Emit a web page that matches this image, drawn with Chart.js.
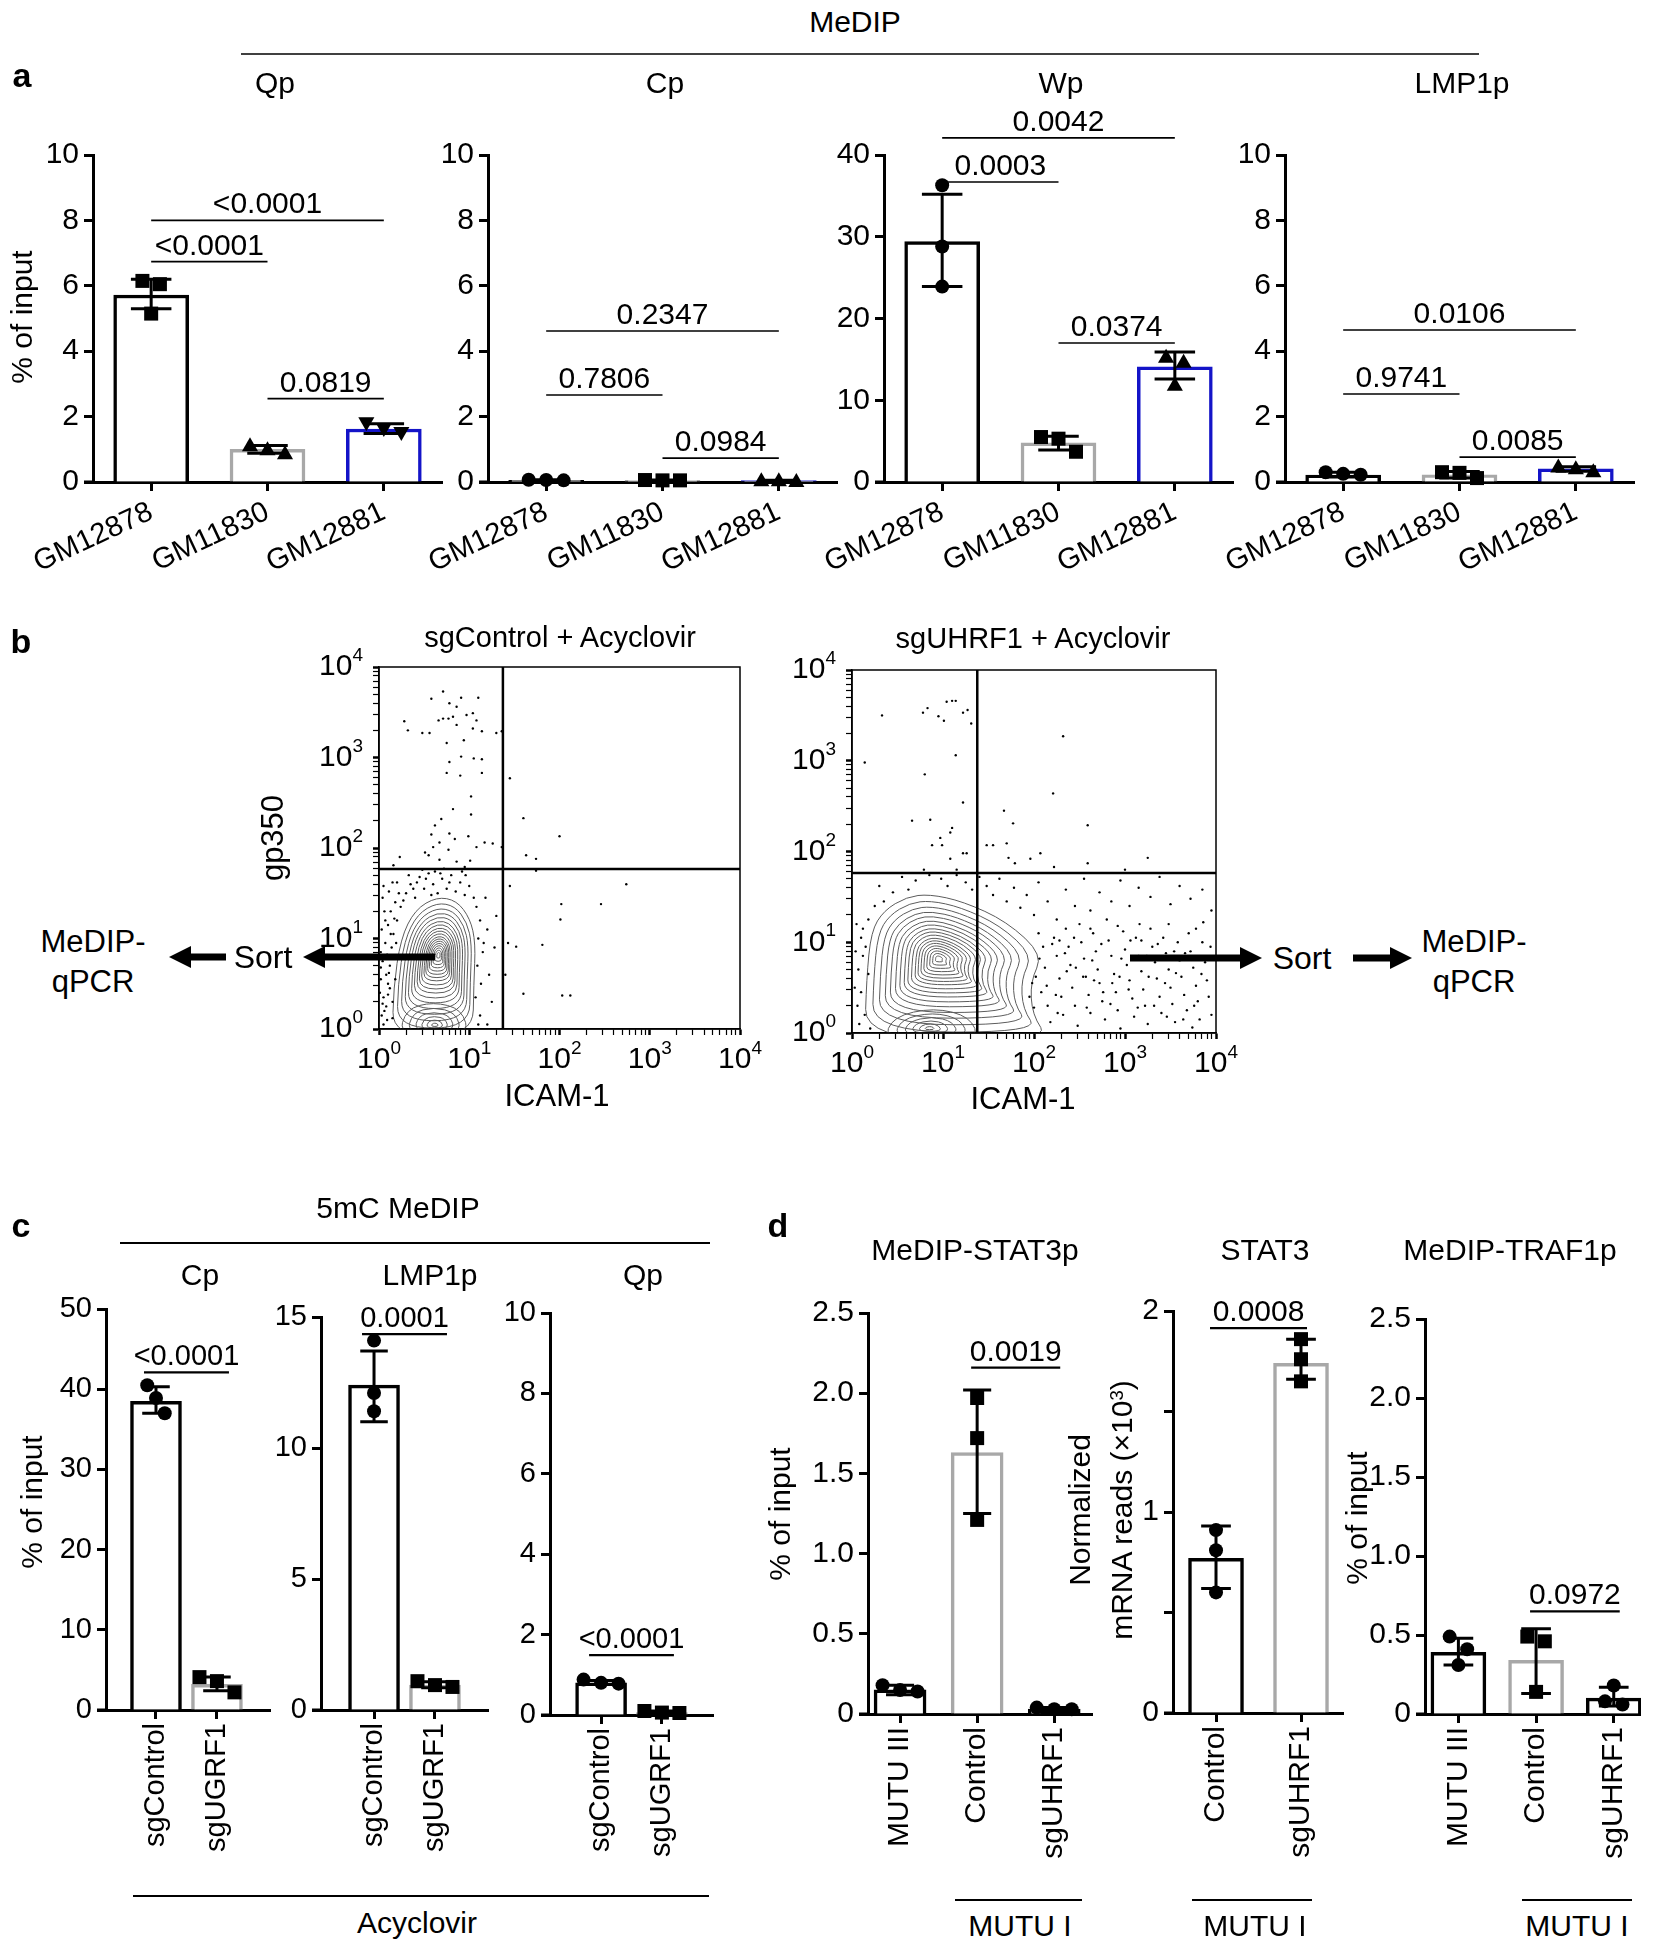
<!DOCTYPE html>
<html>
<head>
<meta charset="utf-8">
<script src="https://cdn.jsdelivr.net/npm/chart.js@4.4.1/dist/chart.umd.min.js"></script>
<style>
body{margin:0;background:#fff;width:1667px;height:1950px;position:relative;overflow:hidden;font-family:'Liberation Sans',Arial,sans-serif;}
.t{position:absolute;white-space:nowrap;transform:translate(-50%,-50%);color:#000;line-height:1;}
.r{transform:translate(-50%,-50%) rotate(-90deg);}
.sup{font-size:0.62em;position:relative;top:-0.5em;}
canvas{position:absolute;}
svg{position:absolute;left:0;top:0;}
</style>
</head>
<body>
<script>
const FONT = "'Liberation Sans', Arial, Helvetica, sans-serif";
const BLACK = '#000', GREY = '#a8a8a8', BLUE = '#1414c8';

// ---------- panel a : MeDIP ----------
const aCells = ['GM12878', 'GM11830', 'GM12881'];
const qpMean = [5.72, 1.0, 1.62];
const qpErr = [[5.3, 6.2], [0.88, 1.12], [1.48, 1.78]];
const qpPts = [[6.15, 6.05, 5.15], [1.12, 1.0, 0.88], [1.8, 1.62, 1.5]];
const qpP = [[1, 2, 6.74, '<0.0001'], [1, 3, 8.0, '<0.0001'], [2, 3, 2.55, '0.0819']];

const cpMean = [0.05, 0.05, 0.04];
const cpErr = [[0.03, 0.07], [0.04, 0.06], [0.02, 0.05]];
const cpPts = [[0.07, 0.06, 0.05], [0.06, 0.05, 0.05], [0.05, 0.05, 0.03]];
const cpP = [[1, 2, 2.66, '0.7806'], [1, 3, 4.62, '0.2347'], [2, 3, 0.73, '0.0984']];

const wpMean = [29.4, 4.8, 14.1];
const wpErr = [[23.9, 35.2], [3.9, 5.6], [12.6, 15.9]];
const wpPts = [[36.3, 28.8, 23.9], [5.5, 5.3, 3.7], [15.3, 14.7, 11.9]];
const wpP = [[1, 2, 36.7, '0.0003'], [1, 3, 42.1, '0.0042'], [2, 3, 17.0, '0.0374']];

const lmMean = [0.21, 0.22, 0.4];
const lmErr = [[0.15, 0.3], [0.12, 0.32], [0.33, 0.47]];
const lmPts = [[0.3, 0.25, 0.22], [0.3, 0.28, 0.12], [0.47, 0.42, 0.33]];
const lmP = [[1, 2, 2.69, '0.9741'], [1, 3, 4.65, '0.0106'], [2, 3, 0.76, '0.0085']];

// ---------- panel b : flow (log10 units) ----------
const leftGate = [23.6, 58.6];
const rightGate = [23.8, 58];
const leftOutline = [[0.15,-0.08],[0.16,0.45],[0.24,1.0],[0.40,1.32],[0.64,1.46],[0.86,1.42],[1.01,1.22],[1.07,0.95],[1.05,0.5],[1.04,-0.08]];
const leftBlob = [[0.22,-0.08],[0.3,0.22],[0.6,0.3],[0.92,0.22],[1.0,-0.08]];
const rightOutline = [[0.14,-0.08],[0.16,0.6],[0.21,1.12],[0.35,1.35],[0.6,1.5],[0.85,1.53],[1.22,1.45],[1.7,1.23],[2.1,0.86],[1.96,0.57],[1.98,0.2],[2.17,-0.08]];
const rightBlob = [[0.35,-0.08],[0.45,0.18],[0.9,0.28],[1.3,0.18],[1.4,-0.08]];
const mainLevels = [1, .9, .81, .73, .66, .59, .53, .47, .42, .37, .32, .28, .24, .2, .16, .12, .08, .04];
const blobLevels = [1, .78, .58, .4, .24, .1];

const leftDots = ("0.71,3.73 0.58,3.65 0.78,3.60 0.86,3.56 0.91,3.66 1.10,3.66 0.28,3.40 0.32,3.30 0.48,3.27 0.56,3.27 " +
  "0.66,3.41 0.71,3.43 0.77,3.43 0.82,3.45 0.86,3.36 0.97,3.47 1.04,3.49 1.08,3.41 1.04,3.32 1.14,3.29 1.30,3.27 1.36,3.29 " +
  "0.75,3.16 0.94,3.19 0.78,2.95 0.91,3.01 1.05,2.99 1.14,2.98 0.75,2.83 0.90,2.80 1.14,2.83 1.02,2.57 0.82,2.43 1.02,2.37 " +
  "0.69,2.32 0.62,2.25 0.78,2.16 0.58,2.15 0.84,2.10 0.99,2.13 1.17,2.06 1.26,2.05 0.67,2.06 0.60,2.01 0.51,1.95 0.77,1.98 " +
  "1.08,2.01 1.36,2.01 0.23,1.90 0.16,1.81 0.55,1.92 0.67,1.87 0.86,1.85 1.01,1.86 0.95,1.79 " +
  "1.45,2.77 1.60,2.33 2.00,2.13 1.63,1.92 1.74,1.88 1.45,1.58 1.74,1.75 2.74,1.60 2.02,1.38 2.46,1.38 2.01,1.21 1.43,0.95 " +
  "1.52,0.91 1.81,0.93 1.60,0.39 2.03,0.37 2.12,0.37 1.40,0.6 " +
  "0.03,0.15 0.05,0.35 0.02,0.55 0.08,0.25 0.1,0.5 0.04,0.75 0.12,0.7 0.07,0.95 0.14,0.9 0.03,1.1 0.1,1.15 0.16,1.05 0.06,1.3 " +
  "0.13,1.3 0.2,1.2 0.09,0.1 0.15,0.3 0.18,0.55 0.05,0.05 0.12,0.45 0.02,0.85 0.08,0.6 0.16,0.78 0.04,1.45 0.11,1.52 0.18,1.4 " +
  "0.24,1.35 0.22,1.5 0.15,1.62 0.3,1.5 0.35,1.6 0.4,1.45 0.45,1.68 0.5,1.55 0.55,1.72 0.6,1.6 0.65,1.5 0.7,1.66 0.75,1.55 " +
  "0.8,1.7 0.85,1.52 0.9,1.62 0.95,1.48 1.0,1.58 0.62,1.74 0.48,1.76 0.72,1.77 0.38,1.55 0.58,1.48 1.08,1.35 1.12,1.2 1.1,1.0 " +
  "1.15,0.85 1.09,0.7 1.13,0.5 1.07,0.35 1.12,0.15 1.2,1.1 1.22,0.6 1.18,1.45 1.25,0.3 1.3,1.25 1.05,1.45 1.16,0.95 1.28,0.9 " +
  "1.1,0.05 1.2,0.05 0.06,0.2 0.11,0.62 0.01,0.4 0.19,0.95 0.27,1.42 0.96,1.7 0.04,0.28 0.09,0.82 0.13,1.05 0.07,1.2 " +
  "0.02,0.68 0.15,0.12 0.1,0.38 0.17,1.22 0.05,1.58 0.2,1.62 0.33,1.7 0.42,1.62 0.52,1.66 0.68,1.72 0.78,1.62 0.92,1.74").split(' ').map(s => s.split(',').map(Number));

const rightDots = ("0.33,3.50 0.78,3.53 0.83,3.58 0.95,3.49 1.01,3.44 1.04,3.65 1.10,3.66 1.14,3.66 1.22,3.53 1.27,3.56 " +
  "1.31,3.41 0.14,2.98 1.14,3.06 0.80,2.85 1.22,2.54 0.66,2.34 0.86,2.35 1.10,2.26 1.08,2.21 0.97,2.15 0.88,2.07 0.99,2.07 " +
  "1.22,1.98 1.26,1.98 1.08,1.92 1.15,1.80 0.79,1.80 2.32,3.27 2.21,2.64 2.59,2.29 1.67,2.45 1.77,2.31 1.48,2.07 1.55,2.07 " +
  "1.70,2.09 1.72,1.93 1.79,1.87 1.96,1.92 2.07,1.98 2.22,1.83 2.59,1.87 3.25,1.93 3.00,1.80 " +
  "0.55,1.72 0.7,1.68 0.85,1.74 0.98,1.7 1.05,1.62 1.15,1.74 1.25,1.66 1.32,1.58 1.4,1.72 1.48,1.62 1.55,1.52 1.62,1.7 1.7,1.45 " +
  "1.78,1.6 1.85,1.38 1.92,1.52 2.0,1.3 2.05,1.66 2.15,1.45 2.25,1.25 2.35,1.58 2.45,1.4 2.55,1.7 2.62,1.35 2.72,1.55 2.85,1.45 " +
  "2.95,1.68 3.05,1.4 3.15,1.6 3.28,1.5 3.38,1.72 3.5,1.42 3.6,1.62 3.72,1.48 3.85,1.58 3.95,1.35 0.45,1.55 0.35,1.45 0.25,1.4 " +
  "0.18,1.25 0.3,1.62 0.62,1.58 0.05,1.2 0.1,1.05 0.04,0.9 0.12,0.85 0.07,0.7 0.15,0.95 0.03,0.5 0.1,0.45 0.06,0.3 0.14,0.2 " +
  "0.08,0.1 0.2,0.05 0.12,1.15 0.18,0.65 " +
  "2.05,1.1 2.1,0.95 2.12,0.72 2.08,0.45 2.15,0.3 2.18,0.12 2.22,1.05 2.25,0.85 2.28,0.6 2.3,0.4 2.32,0.2 2.35,1.15 2.38,0.95 " +
  "2.4,0.75 2.42,0.5 2.45,0.3 2.48,0.08 2.5,1.2 2.52,1.0 2.55,0.82 2.57,0.62 2.6,0.42 2.62,0.22 2.65,1.1 2.68,0.9 2.7,0.7 " +
  "2.72,0.55 2.75,0.35 2.78,0.15 2.8,1.25 2.82,1.02 2.85,0.85 2.88,0.65 2.9,0.45 2.92,0.25 2.95,0.05 2.98,1.12 3.0,0.92 " +
  "3.02,0.75 3.05,0.58 3.08,0.38 3.1,0.18 3.12,1.05 3.15,0.85 3.18,0.68 3.2,0.48 3.22,0.3 3.25,0.1 3.28,1.15 3.3,0.95 3.33,0.78 " +
  "3.35,0.6 3.38,0.4 3.4,0.22 3.42,1.05 3.45,0.88 3.48,0.7 3.5,0.5 3.52,0.32 3.55,0.12 3.58,1.0 3.6,0.8 3.62,0.62 3.65,0.42 " +
  "3.68,0.25 3.7,1.1 3.72,0.9 3.75,0.72 3.78,0.52 3.8,0.35 3.82,0.15 3.85,1.0 3.88,0.78 3.9,0.58 3.92,0.4 3.95,0.2 2.2,0.98 " +
  "2.36,0.68 2.44,1.05 2.58,0.28 2.66,0.58 2.74,0.98 2.84,0.32 2.96,0.82 3.04,0.48 3.16,1.2 3.26,0.62 3.36,0.98 3.46,0.18 " +
  "3.56,0.66 3.66,0.88 3.76,0.3 3.86,1.22 2.26,0.22 2.54,0.62 2.86,0.55 3.14,0.28 3.44,0.55 3.74,0.06 2.02,0.62 2.06,0.82 " +
  "2.14,0.52 2.24,0.42 2.34,0.88 2.46,0.72 2.64,0.8 2.76,0.45 2.94,0.62 3.06,1.02 3.24,0.85 3.32,0.3 3.54,0.9 3.64,0.15 " +
  "3.84,0.65 3.94,0.95 1.95,0.4 1.98,0.55 2.0,0.28 2.28,1.02 2.62,1.15 2.92,1.18 3.18,1.02 3.48,1.2 3.78,1.15").split(' ').map(s => s.split(',').map(Number));

// ---------- panel c : 5mC MeDIP ----------
const cGroups = ['sgControl', 'sgUGRF1'];
const c1Mean = [38.5, 3.2], c1Err = [[37.0, 40.3], [2.4, 4.1]], c1Pts = [[40.5, 38.9, 37.0], [4.1, 3.6, 2.2]];
const c1P = [[1, 2, 42.1, '<0.0001']];
const c2Mean = [12.4, 0.95], c2Err = [[11.0, 13.7], [0.85, 1.08]], c2Pts = [[14.1, 12.1, 11.4], [1.1, 0.95, 0.88]];
const c2P = [[1, 2, 14.35, '0.0001']];
const c3Mean = [0.8, 0.06], c3Err = [[0.76, 0.86], [0.03, 0.1]], c3Pts = [[0.88, 0.8, 0.78], [0.1, 0.06, 0.05]];
const c3P = [[1, 2, 1.49, '<0.0001']];

// ---------- panel d ----------
const dGroups3 = ['MUTU III', 'Control', 'sgUHRF1'];
const dGroups2 = ['Control', 'sgUHRF1'];
const d1Mean = [0.15, 1.63, 0.03], d1Err = [[0.12, 0.18], [1.25, 2.02], [0.01, 0.04]];
const d1Pts = [[0.18, 0.15, 0.14], [1.97, 1.72, 1.21], [0.04, 0.03, 0.03]];
const d1P = [[2, 3, 2.16, '0.0019']];
const d2Mean = [0.77, 1.74], d2Err = [[0.62, 0.93], [1.66, 1.86]];
const d2Pts = [[0.91, 0.81, 0.6], [1.86, 1.76, 1.65]];
const d2P = [[1, 2, 1.915, '0.0008']];
const d3Mean = [0.39, 0.34, 0.1], d3Err = [[0.31, 0.48], [0.13, 0.54], [0.05, 0.17]];
const d3Pts = [[0.49, 0.41, 0.31], [0.49, 0.46, 0.14], [0.18, 0.08, 0.06]];
const d3P = [[2, 3, 0.65, '0.0972']];

// ---------- drawing helpers ----------
function drawShape(ctx, s, x, y, r) {
  ctx.beginPath();
  if (s === 'circle') ctx.arc(x, y, r, 0, Math.PI * 2);
  else if (s === 'rect') ctx.rect(x - r, y - r, 2 * r, 2 * r);
  else if (s === 'tri') { ctx.moveTo(x, y - r * 1.15); ctx.lineTo(x + r * 1.15, y + r * 0.85); ctx.lineTo(x - r * 1.15, y + r * 0.85); ctx.closePath(); }
  else { ctx.moveTo(x, y + r * 1.15); ctx.lineTo(x + r * 1.15, y - r * 0.85); ctx.lineTo(x - r * 1.15, y - r * 0.85); ctx.closePath(); }
  ctx.fill();
}

const marks = {
  id: 'marks',
  afterDatasetsDraw(chart, args, o) {
    const {ctx, scales: {x, y}} = chart;
    ctx.save();
    ctx.strokeStyle = '#000'; ctx.fillStyle = '#000';
    // x axis overhang to the left of the y axis
    ctx.lineWidth = 3;
    ctx.beginPath(); ctx.moveTo(x.left - 9, y.bottom); ctx.lineTo(x.left, y.bottom); ctx.stroke();
    // dots
    o.pts.forEach((arr, i) => {
      const px = x.getPixelForValue(i + 1);
      const ys = arr.map(v => y.getPixelForValue(v));
      ys.forEach((py, j) => {
        const near = ys.map((q, k) => k).filter(k => Math.abs(ys[k] - py) < o.ms * 1.1);
        const rank = near.indexOf(j);
        const dx = (rank - (near.length - 1) / 2) * o.ms * 1.25;
        drawShape(ctx, o.shapes[i], px + dx, py, o.ms / 2);
      });
    });
    // error bars
    ctx.lineWidth = 3;
    o.err.forEach(([lo, hi], i) => {
      const px = x.getPixelForValue(i + 1), y0 = y.getPixelForValue(lo), y1 = y.getPixelForValue(hi);
      ctx.beginPath();
      ctx.moveTo(px, y0); ctx.lineTo(px, y1);
      ctx.moveTo(px - o.cap, y0); ctx.lineTo(px + o.cap, y0);
      ctx.moveTo(px - o.cap, y1); ctx.lineTo(px + o.cap, y1);
      ctx.stroke();
    });
    // significance brackets
    ctx.lineWidth = o.blw;
    ctx.font = o.fs + 'px ' + FONT;
    ctx.textAlign = 'center'; ctx.textBaseline = 'alphabetic';
    o.brackets.forEach(([a, b, v, t]) => {
      const x0 = x.getPixelForValue(a) + o.bpad[0], x1 = x.getPixelForValue(b) + o.bpad[1], py = y.getPixelForValue(v);
      ctx.beginPath(); ctx.moveTo(x0, py); ctx.lineTo(x1, py); ctx.stroke();
      ctx.fillText(t, (x0 + x1) / 2, py - 7);
    });
    ctx.restore();
  }
};

function barChart(o) {
  const yw = o.yw, T = o.T, R = o.R, xh = o.xh;
  const W = yw + (o.right - o.axisX) + R, H = T + (o.bottom - o.top) + xh;
  const cv = document.createElement('canvas');
  cv.width = W; cv.height = H;
  cv.style.left = (o.axisX - yw) + 'px'; cv.style.top = (o.top - T) + 'px';
  cv.style.width = W + 'px'; cv.style.height = H + 'px';
  document.body.appendChild(cv);
  const gridOpts = {drawOnChartArea: false, offset: false, tickLength: 9, tickWidth: 3, tickColor: '#000'};
  return new Chart(cv, {
    type: 'bar',
    data: {datasets: [{
      data: o.mean.map((v, i) => ({x: i + 1, y: v})),
      backgroundColor: '#fff', borderColor: o.colors, borderWidth: 3.5,
      barThickness: o.barPx
    }]},
    options: {
      responsive: false, animation: false, events: [],
      layout: {padding: {top: T, right: R, left: 0, bottom: 0}},
      plugins: {
        legend: {display: false}, tooltip: {enabled: false},
        marks: {err: o.err, pts: o.pts, shapes: o.shapes, brackets: o.brackets, ms: o.ms, fs: o.fs,
          blw: o.blw, cap: o.barPx * 0.27, bpad: o.bpad || [0, 0]}
      },
      scales: {
        x: {type: 'linear', offset: false, min: o.xmin, max: o.xmax,
          afterFit: s => { s.height = xh; },
          afterBuildTicks: s => { s.ticks = o.labels.map((l, i) => ({value: i + 1})); },
          border: {width: 3, color: '#000'}, grid: gridOpts,
          ticks: {autoSkip: false, minRotation: o.rot, maxRotation: o.rot, padding: 4, color: '#000',
            font: {family: FONT, size: o.xfs}, callback: v => o.labels[v - 1]}},
        y: {min: 0, max: o.ymax,
          afterFit: s => { s.width = yw; },
          border: {width: 3, color: '#000'}, grid: gridOpts,
          ticks: {stepSize: o.step, padding: 5, color: '#000', font: {family: FONT, size: o.fs},
            callback: o.ycb || (v => v)}}
      }
    },
    plugins: [marks]
  });
}

function smoothClosed(ctx, p) {
  const n = p.length, mid = (a, b) => [(a[0] + b[0]) / 2, (a[1] + b[1]) / 2];
  let m = mid(p[n - 1], p[0]);
  ctx.beginPath(); ctx.moveTo(m[0], m[1]);
  for (let i = 0; i < n; i++) {
    const q = mid(p[i], p[(i + 1) % n]);
    ctx.quadraticCurveTo(p[i][0], p[i][1], q[0], q[1]);
  }
  ctx.closePath();
}

const flow = {
  id: 'flow',
  beforeDatasetsDraw(chart, args, o) {
    const {ctx, chartArea: a, scales: {x, y}} = chart;
    ctx.save();
    ctx.beginPath(); ctx.rect(a.left, a.top, a.right - a.left, a.bottom - a.top); ctx.clip();
    ctx.strokeStyle = '#5c5c5c'; ctx.lineWidth = 1;
    o.contours.forEach(c => c.levels.forEach(k => {
      const p = c.outline.map(([u, v]) => [
        x.getPixelForValue(10 ** (c.center[0] + k * (u - c.center[0]))),
        y.getPixelForValue(10 ** (c.center[1] + k * (v - c.center[1])))]);
      smoothClosed(ctx, p); ctx.stroke();
    }));
    ctx.restore();
  },
  afterDatasetsDraw(chart, args, o) {
    const {ctx, chartArea: a, scales: {x, y}} = chart;
    ctx.save();
    ctx.strokeStyle = '#000';
    ctx.lineWidth = 1.5; ctx.strokeRect(a.left, a.top, a.right - a.left, a.bottom - a.top);
    ctx.lineWidth = 2.5;
    const gx = x.getPixelForValue(o.gate[0]), gy = y.getPixelForValue(o.gate[1]);
    ctx.beginPath(); ctx.moveTo(gx, a.top); ctx.lineTo(gx, a.bottom); ctx.moveTo(a.left, gy); ctx.lineTo(a.right, gy); ctx.stroke();
    // decade labels 10^n
    ctx.fillStyle = '#000'; ctx.textBaseline = 'middle'; ctx.textAlign = 'left';
    const big = '30px ' + FONT, small = '19px ' + FONT;
    for (let e = 0; e <= 4; e++) {
      ctx.font = big; const w1 = ctx.measureText('10').width;
      ctx.font = small; const w2 = ctx.measureText(String(e)).width;
      const px = x.getPixelForValue(10 ** e), py = y.getPixelForValue(10 ** e);
      let sx = px - (w1 + w2) / 2, sy = a.bottom + 31;
      ctx.font = big; ctx.fillText('10', sx, sy);
      ctx.font = small; ctx.fillText(String(e), sx + w1, sy - 11);
      sx = a.left - 16 - (w1 + w2); sy = py;
      ctx.font = big; ctx.fillText('10', sx, sy);
      ctx.font = small; ctx.fillText(String(e), sx + w1, sy - 11);
    }
    ctx.restore();
  }
};

function flowChart(o) {
  const yw = 100, T = 20, R = 40, xh = 60;
  const W = yw + (o.right - o.left) + R, H = T + (o.bottom - o.top) + xh;
  const cv = document.createElement('canvas');
  cv.width = W; cv.height = H;
  cv.style.left = (o.left - yw) + 'px'; cv.style.top = (o.top - T) + 'px';
  cv.style.width = W + 'px'; cv.style.height = H + 'px';
  document.body.appendChild(cv);
  const isDec = v => Math.abs(Math.log10(v) - Math.round(Math.log10(v))) < 1e-9;
  const decTicks = s => {
    const t = [];
    for (let e = 0; e < 4; e++) for (let m = 1; m < 10; m++) t.push({value: m * 10 ** e});
    t.push({value: 1e4});
    s.ticks = t;
  };
  const axis = fit => ({type: 'logarithmic', min: 1, max: 1e4, afterFit: fit, afterBuildTicks: decTicks,
    border: {width: 1.5, color: '#000'},
    grid: {drawOnChartArea: false, tickLength: 6, tickColor: '#000', tickWidth: c => isDec(c.tick.value) ? 2.5 : 1.2},
    ticks: {autoSkip: false, minRotation: 0, maxRotation: 0, color: '#000', font: {family: FONT, size: 1}, callback: () => ''}});
  new Chart(cv, {
    type: 'scatter',
    data: {datasets: [{data: o.dots.map(([a, b]) => ({x: 10 ** a, y: 10 ** b})),
      pointRadius: 1.2, pointBackgroundColor: '#000', pointBorderWidth: 0}]},
    options: {
      responsive: false, animation: false, events: [],
      layout: {padding: {top: T, right: R, left: 0, bottom: 0}},
      plugins: {legend: {display: false}, tooltip: {enabled: false},
        flow: {gate: o.gate, contours: o.contours}},
      scales: {x: axis(s => { s.height = xh; }), y: axis(s => { s.width = yw; })}
    },
    plugins: [flow]
  });
}

function addText(str, x, y, size, opt = {}) {
  const d = document.createElement('div');
  d.className = 't' + (opt.rot ? ' r' : '');
  d.style.left = x + 'px'; d.style.top = y + 'px'; d.style.fontSize = size + 'px';
  if (opt.bold) d.style.fontWeight = 'bold';
  d.innerHTML = str;
  document.body.appendChild(d);
}

// ---------- panel a charts ----------
const aBase = {top: 155, bottom: 482, xmin: 0.5, xmax: 3.5, labels: aCells, colors: [BLACK, GREY, BLUE],
  barPx: 75, rot: 25, xfs: 29, fs: 30, ms: 14, blw: 1.6, yw: 90, T: 75, R: 15, xh: 150};
barChart({...aBase, axisX: 93, right: 442, ymax: 10, step: 2, mean: qpMean, err: qpErr, pts: qpPts,
  shapes: ['rect', 'tri', 'triDown'], brackets: qpP});
barChart({...aBase, axisX: 488, right: 837, ymax: 10, step: 2, mean: cpMean, err: cpErr, pts: cpPts,
  shapes: ['circle', 'rect', 'tri'], brackets: cpP});
barChart({...aBase, axisX: 884, right: 1233, ymax: 40, step: 10, mean: wpMean, err: wpErr, pts: wpPts,
  shapes: ['circle', 'rect', 'tri'], brackets: wpP});
barChart({...aBase, axisX: 1285, right: 1634, ymax: 10, step: 2, mean: lmMean, err: lmErr, pts: lmPts,
  shapes: ['circle', 'rect', 'tri'], brackets: lmP});

// ---------- panel b charts ----------
flowChart({left: 379, right: 740, top: 667, bottom: 1029, gate: leftGate, dots: leftDots,
  contours: [{outline: leftOutline, center: [0.66, 0.82], levels: mainLevels},
             {outline: leftBlob, center: [0.62, 0.04], levels: blobLevels}]});
flowChart({left: 852, right: 1216, top: 670, bottom: 1033, gate: rightGate, dots: rightDots,
  contours: [{outline: rightOutline, center: [0.95, 0.82], levels: mainLevels},
             {outline: rightBlob, center: [0.85, 0.05], levels: blobLevels}]});

// ---------- panel c charts ----------
const cBase = {labels: cGroups, colors: [BLACK, GREY], barPx: 51, rot: 90, xfs: 29, fs: 29, ms: 14, blw: 2.2,
  yw: 90, T: 75, R: 10, xh: 175, shapes: ['circle', 'rect'], bpad: [-12, 12]};
barChart({...cBase, axisX: 106, right: 270, top: 1309, bottom: 1710, xmin: 0.18, xmax: 2.87, ymax: 50, step: 10,
  mean: c1Mean, err: c1Err, pts: c1Pts, brackets: c1P});
barChart({...cBase, axisX: 321, right: 488, top: 1317, bottom: 1710, xmin: 0.13, xmax: 2.87, ymax: 15, step: 5,
  mean: c2Mean, err: c2Err, pts: c2Pts, brackets: c2P});
barChart({...cBase, axisX: 550, right: 713, top: 1313, bottom: 1715, xmin: 0.16, xmax: 2.84, ymax: 10, step: 2,
  mean: c3Mean, err: c3Err, pts: c3Pts, brackets: c3P});

// ---------- panel d charts ----------
const dBase = {rot: 90, xfs: 30, fs: 30, ms: 14, blw: 2.2, yw: 95, T: 75, R: 10, xh: 185, bpad: [-6, 6]};
const dec1 = v => v === 0 ? '0' : v.toFixed(1);
barChart({...dBase, labels: dGroups3, colors: [BLACK, GREY, BLACK], barPx: 52, axisX: 868, right: 1092,
  top: 1313, bottom: 1714, xmin: 0.584, xmax: 3.49, ymax: 2.5, step: 0.5, ycb: dec1,
  mean: d1Mean, err: d1Err, pts: d1Pts, shapes: ['circle', 'rect', 'circle'], brackets: d1P});
barChart({...dBase, labels: dGroups2, colors: [BLACK, GREY], barPx: 55, axisX: 1173, right: 1343,
  top: 1311, bottom: 1713, xmin: 0.494, xmax: 2.494, ymax: 2, step: 0.5, ycb: v => Number.isInteger(v) ? v : '',
  mean: d2Mean, err: d2Err, pts: d2Pts, shapes: ['circle', 'rect'], brackets: d2P});
barChart({...dBase, labels: dGroups3, colors: [BLACK, GREY, BLACK], barPx: 55, axisX: 1425, right: 1645,
  top: 1319, bottom: 1714, xmin: 0.57, xmax: 3.35, ymax: 2.5, step: 0.5, ycb: dec1,
  mean: d3Mean, err: d3Err, pts: d3Pts, shapes: ['circle', 'rect', 'circle'], brackets: d3P});

// ---------- text ----------
addText('MeDIP', 855, 22, 30);
addText('a', 22, 75, 34, {bold: true});
addText('Qp', 275, 83, 30); addText('Cp', 665, 83, 30); addText('Wp', 1061, 83, 30); addText('LMP1p', 1462, 83, 30);
addText('% of input', 22, 317, 30, {rot: true});

addText('b', 21, 641, 34, {bold: true});
addText('sgControl + Acyclovir', 560, 637, 29); addText('sgUHRF1 + Acyclovir', 1033, 638, 29);
addText('gp350', 272, 838, 31, {rot: true});
addText('ICAM-1', 557, 1095, 31); addText('ICAM-1', 1023, 1098, 31);
addText('Sort', 263, 957, 32); addText('Sort', 1302, 958, 32);
addText('MeDIP-', 93, 941, 31); addText('qPCR', 93, 981, 31);
addText('MeDIP-', 1474, 941, 31); addText('qPCR', 1474, 981, 31);

addText('c', 21, 1225, 34, {bold: true});
addText('5mC MeDIP', 398, 1208, 30);
addText('Cp', 200, 1275, 30); addText('LMP1p', 430, 1275, 30); addText('Qp', 643, 1275, 30);
addText('% of input', 32, 1502, 30, {rot: true});
addText('Acyclovir', 417, 1923, 30);

addText('d', 778, 1225, 34, {bold: true});
addText('MeDIP-STAT3p', 975, 1250, 30); addText('STAT3', 1265, 1250, 30); addText('MeDIP-TRAF1p', 1510, 1250, 30);
addText('% of input', 780, 1514, 30, {rot: true});
addText('Normalized', 1080, 1510, 30, {rot: true});
addText('mRNA reads (\u00d710<span class="sup">3</span>)', 1122, 1510, 30, {rot: true});
addText('% of input', 1357, 1518, 30, {rot: true});
addText('MUTU I', 1020, 1926, 30); addText('MUTU I', 1255, 1926, 30); addText('MUTU I', 1577, 1926, 30);

// ---------- group lines and arrows ----------
document.body.insertAdjacentHTML('beforeend',
  '<svg width="1667" height="1950" viewBox="0 0 1667 1950">' +
  '<g stroke="#000" fill="none">' +
  '<line x1="241" y1="54" x2="1479" y2="54" stroke-width="1.6"/>' +
  '<line x1="120" y1="1243" x2="710" y2="1243" stroke-width="2.2"/>' +
  '<line x1="133" y1="1896" x2="709" y2="1896" stroke-width="2.2"/>' +
  '<line x1="955" y1="1900" x2="1082" y2="1900" stroke-width="2.2"/>' +
  '<line x1="1192" y1="1900" x2="1312" y2="1900" stroke-width="2.2"/>' +
  '<line x1="1522" y1="1900" x2="1632" y2="1900" stroke-width="2.2"/>' +
  '<line x1="435" y1="957" x2="322" y2="957" stroke-width="7"/>' +
  '<line x1="226" y1="957" x2="188" y2="957" stroke-width="7"/>' +
  '<line x1="1130" y1="958" x2="1242" y2="958" stroke-width="7"/>' +
  '<line x1="1353" y1="958" x2="1393" y2="958" stroke-width="7"/>' +
  '</g><g fill="#000">' +
  '<polygon points="303,957 325,946 325,968"/>' +
  '<polygon points="169,957 191,946 191,968"/>' +
  '<polygon points="1262,958 1240,947 1240,969"/>' +
  '<polygon points="1412,958 1390,947 1390,969"/>' +
  '</g></svg>');
</script>
</body>
</html>
